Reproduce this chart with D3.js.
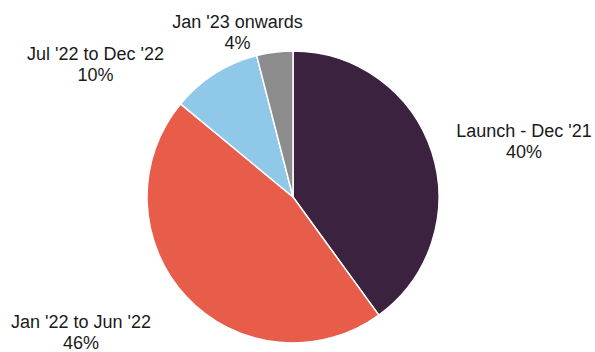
<!DOCTYPE html>
<html><head><meta charset="utf-8">
<script src="https://cdn.jsdelivr.net/npm/d3@7"></script>
<style>body{margin:0;background:#fff}svg{display:block}</style>
</head><body>
<svg id="c" width="595" height="352"></svg>
<script>
const categories = ["Launch - Dec '21", "Jan '22 to Jun '22", "Jul '22 to Dec '22", "Jan '23 onwards"];
const values = [40, 46, 10, 4];
const colors = ["#3B2340", "#E85C4A", "#8FC8E8", "#8C8C8C"];
const labelPos = [[524, 137], [81, 327.5], [95.5, 60], [237.5, 28]];

const svg = d3.select("#c");
const cx = 293, cy = 197, r = 146;
const data = categories.map((c, i) => ({cat: c, v: values[i], i}));
const pie = d3.pie().value(d => d.v).sort(null);
const arc = d3.arc().innerRadius(0).outerRadius(r);
const g = svg.append("g").attr("transform", `translate(${cx},${cy})`);
g.selectAll("path").data(pie(data)).join("path")
  .attr("d", arc).attr("fill", d => colors[d.data.i])
  .attr("stroke", "#fff").attr("stroke-width", 1.5);

const lab = svg.append("g").attr("font-family", "'Liberation Sans', Arial, sans-serif")
  .attr("font-size", 18).attr("fill", "#1a1a1a").attr("text-anchor", "middle");
data.forEach((d, i) => {
  const [x, y] = labelPos[i];
  const t = lab.append("text").attr("x", x).attr("y", y);
  t.append("tspan").attr("x", x).attr("dy", 0).text(d.cat);
  t.append("tspan").attr("x", x).attr("dy", 21).text(d.v + "%");
});
</script>
</body></html>
